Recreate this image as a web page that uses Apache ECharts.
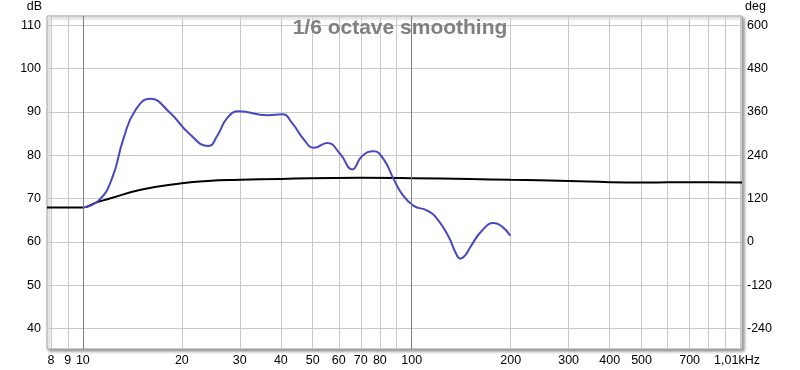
<!DOCTYPE html>
<html><head><meta charset="utf-8">
<script src="https://cdn.jsdelivr.net/npm/echarts@6/dist/echarts.min.js"></script>
<style>html,body{margin:0;padding:0;background:#fff}#c{width:800px;height:370px}</style>
</head><body><div id="c"></div>
<script>
// Magnitude (dB), 1/6 octave smoothing
const magFreq = [10, 11.16, 12.25, 13.29, 14.43, 16.03, 18.44, 20.96, 24.1, 25.6, 27.5, 29.8, 36.4, 40.4, 43.3, 47.0, 50.4, 55.3, 60.7, 65.9, 70.7, 76.6, 82.2, 88.2, 93.5, 101.4, 111.4, 119.5, 129.6, 135.8, 140.6, 145.6, 150.8, 163.7, 177.5, 188.3, 199.5];
const magDb = [67.9, 69.5, 74.5, 83.8, 90.3, 93.0, 89.7, 85.1, 82.1, 84.4, 88.6, 90.1, 89.2, 89.4, 87.4, 83.6, 81.7, 82.8, 80.2, 76.7, 79.8, 80.9, 79.0, 74.4, 71.0, 68.3, 67.2, 65.3, 61.1, 57.6, 56.1, 56.9, 58.8, 62.6, 64.3, 63.5, 61.4];
// Phase (deg)
const phaseFreq = [7.78, 10, 11, 12, 15, 20, 24, 30, 40, 70, 100, 150, 200, 300, 400, 500, 600, 700, 800, 1010];
const phaseDeg = [95, 95, 109, 119, 144, 162, 168.5, 171.5, 174, 177, 176, 173.5, 171.5, 168.5, 165, 164, 164.5, 165, 164.5, 164];
// Axis ticks
const freqGrid = [8, 9, 10, 20, 30, 40, 50, 60, 70, 80, 90, 100, 200, 300, 400, 500, 600, 700, 800, 900, 1000];
const freqLabels = [8, 9, 10, 20, 30, 40, 50, 60, 70, 80, 100, 200, 300, 400, 500, 700];
const freqMin = 7.78, freqMax = 1010;
const dbTicks = [40, 50, 60, 70, 80, 90, 100, 110];
const degTicks = [-240, -120, 0, 120, 240, 360, 480, 600];
const dbMin = 35.25, dbMax = 112.1;
const degMin = (dbMin - 60) * 12, degMax = (dbMax - 60) * 12;
const darkLines = [10, 100];

const L = Math.log10;
const font = '"Liberation Sans", Arial, sans-serif';
const chart = echarts.init(document.getElementById('c'), null, {renderer: 'canvas'});
chart.setOption({
  animation: false,
  backgroundColor: '#fff',
  title: {
    text: '1/6 octave smoothing', left: 'center', top: 18, padding: 0,
    textStyle: {fontFamily: font, fontSize: 21, fontWeight: 'bold', color: '#808080'}
  },
  grid: {
    left: 47, right: 58, top: 14, bottom: 21, show: true,
    backgroundColor: '#fff', borderColor: '#a0a0a0', borderWidth: 1,
    shadowColor: 'rgba(0,0,0,0.4)', shadowBlur: 3, shadowOffsetX: 2, shadowOffsetY: 2
  },
  xAxis: {
    type: 'value', min: L(freqMin), max: L(freqMax),
    axisLine: {show: false}, axisTick: {show: false, customValues: freqGrid.map(L)},
    splitLine: {show: true, lineStyle: {color: '#c8c8c8', width: 1}},
    axisLabel: {
      customValues: freqLabels.map(L).concat([L(freqMax)]),
      margin: 5, color: '#000', fontFamily: font, fontSize: 12.5,
      formatter: v => {
        const f = Math.pow(10, v);
        if (f > 1005) return '{e|1,01kHz}';
        return String(Math.round(f));
      },
      rich: {e: {padding: [0, 10, 0, 0], color: '#000', fontFamily: font, fontSize: 12.5}}
    }
  },
  yAxis: [{
    type: 'value', min: dbMin, max: dbMax, position: 'left',
    name: 'dB', nameLocation: 'end', nameGap: 3,
    nameTextStyle: {align: 'right', verticalAlign: 'bottom', padding: [0, 5, 0, 0], color: '#000', fontFamily: font, fontSize: 12.5},
    axisLine: {show: false}, axisTick: {show: false, customValues: dbTicks},
    splitLine: {show: true, lineStyle: {color: '#c8c8c8', width: 1}},
    axisLabel: {customValues: dbTicks, margin: 6, color: '#000', fontFamily: font, fontSize: 12.5}
  }, {
    type: 'value', min: degMin, max: degMax, position: 'right',
    name: 'deg', nameLocation: 'end', nameGap: 3,
    nameTextStyle: {align: 'left', verticalAlign: 'bottom', padding: [0, 0, 0, 3], color: '#000', fontFamily: font, fontSize: 12.5},
    axisLine: {show: false}, axisTick: {show: false, customValues: degTicks},
    splitLine: {show: false},
    axisLabel: {customValues: degTicks, margin: 5, color: '#000', fontFamily: font, fontSize: 12.5}
  }],
  series: [{
    type: 'line', z: 1, data: [], silent: true,
    markLine: {
      silent: true, symbol: ['none', 'none'], label: {show: false},
      lineStyle: {color: '#808080', type: 'solid', width: 1},
      data: darkLines.map(f => ({xAxis: L(f)}))
    }
  }, {
    name: 'phase', type: 'line', yAxisIndex: 1, showSymbol: false, smooth: 0.5,
    lineStyle: {color: '#000', width: 2}, itemStyle: {color: '#000'},
    data: phaseFreq.map((f, i) => [L(f), phaseDeg[i]])
  }, {
    name: 'mag', type: 'line', yAxisIndex: 0, showSymbol: false, smooth: 0.5,
    lineStyle: {color: '#4848c0', width: 2}, itemStyle: {color: '#4848c0'},
    data: magFreq.map((f, i) => [L(f), magDb[i]])
  }]
});
</script></body></html>
